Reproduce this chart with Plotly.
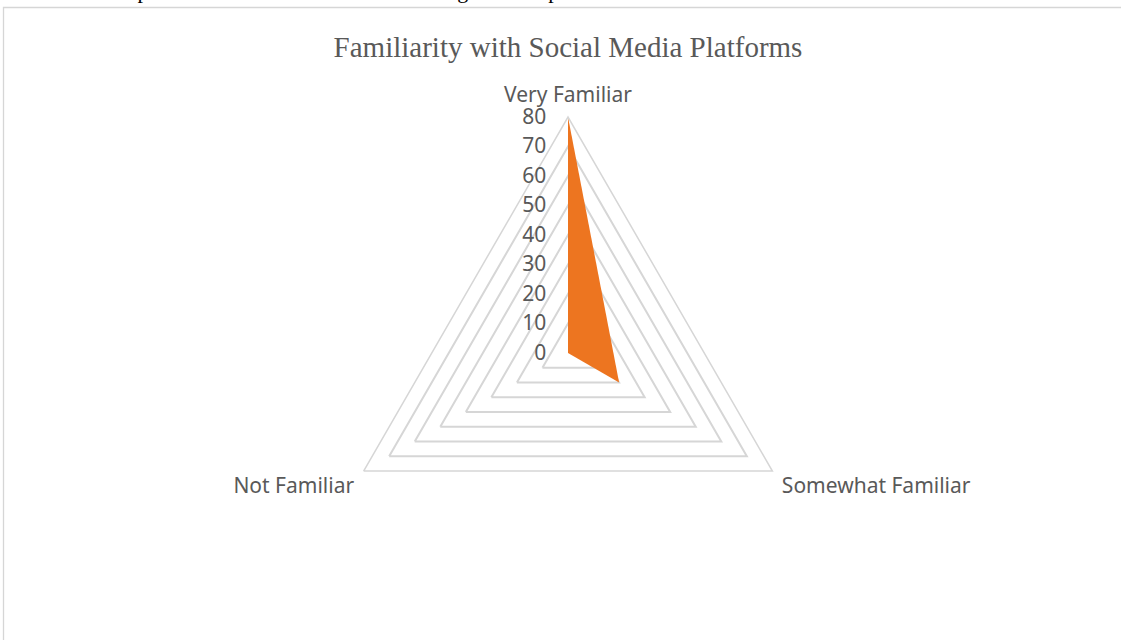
import plotly.graph_objects as go

categories = ["Very Familiar", "Somewhat Familiar", "Not Familiar"]
values = [80, 20, 0]
radial_ticks = [0, 10, 20, 30, 40, 50, 60, 70, 80]
title_text = "Familiarity with Social Media Platforms"
above_text = "the public's awareness and understanding of these platforms."

W, H = 1121, 640
cx, cy, R = 568, 353, 236

fig = go.Figure()
fig.add_trace(go.Scatterpolar(
    r=values + [values[0]],
    theta=categories + [categories[0]],
    mode="lines",
    fill="toself",
    fillcolor="#ED7520",
    line=dict(color="#ED7520", width=0),
    hoverinfo="skip",
    showlegend=False,
))

tick_font = dict(family="Noto Sans, Open Sans, sans-serif", size=21, color="#595959")

fig.update_layout(
    width=W, height=H,
    margin=dict(l=0, r=0, t=0, b=0),
    paper_bgcolor="white",
    plot_bgcolor="white",
    showlegend=False,
    polar=dict(
        domain=dict(x=[(cx - R) / W, (cx + R) / W], y=[1 - (cy + R) / H, 1 - (cy - R) / H]),
        bgcolor="white",
        gridshape="linear",
        radialaxis=dict(
            range=[0, 80],
            tickvals=radial_ticks,
            ticktext=[str(v) for v in radial_ticks],
            angle=90,
            tickangle=90,
            side="counterclockwise",
            showline=False,
            ticks="outside",
            ticklen=14,
            tickcolor="rgba(0,0,0,0)",
            gridcolor="#d6d6d6",
            gridwidth=1.5,
            tickfont=tick_font,
        ),
        angularaxis=dict(
            rotation=90,
            direction="clockwise",
            showgrid=False,
            showline=True,
            linecolor="#d6d6d6",
            linewidth=1.5,
            ticks="outside",
            ticklen=6,
            tickcolor="rgba(0,0,0,0)",
            tickfont=tick_font,
        ),
    ),
    title=dict(
        text=title_text,
        x=cx / W, xanchor="center",
        y=1 - 47 / H, yanchor="middle",
        font=dict(family="Liberation Serif, Times New Roman, serif", size=29, color="#595959"),
    ),
    shapes=[dict(
        type="rect", xref="paper", yref="paper",
        x0=3.5 / W, x1=1.05, y0=-0.05, y1=1 - 7.5 / H,
        line=dict(color="#d6d6d6", width=1.3),
        fillcolor="rgba(0,0,0,0)", layer="below",
    )],
    annotations=[dict(
        text=above_text, xref="paper", yref="paper",
        x=103 / W, xanchor="left", y=1 + 10 / H, yanchor="middle",
        showarrow=False,
        font=dict(family="Liberation Serif, Times New Roman, serif", size=22, color="black"),
    )],
)

fig.write_html("out.html", config={"displayModeBar": False},
               post_script="document.body.style.margin='0';")
